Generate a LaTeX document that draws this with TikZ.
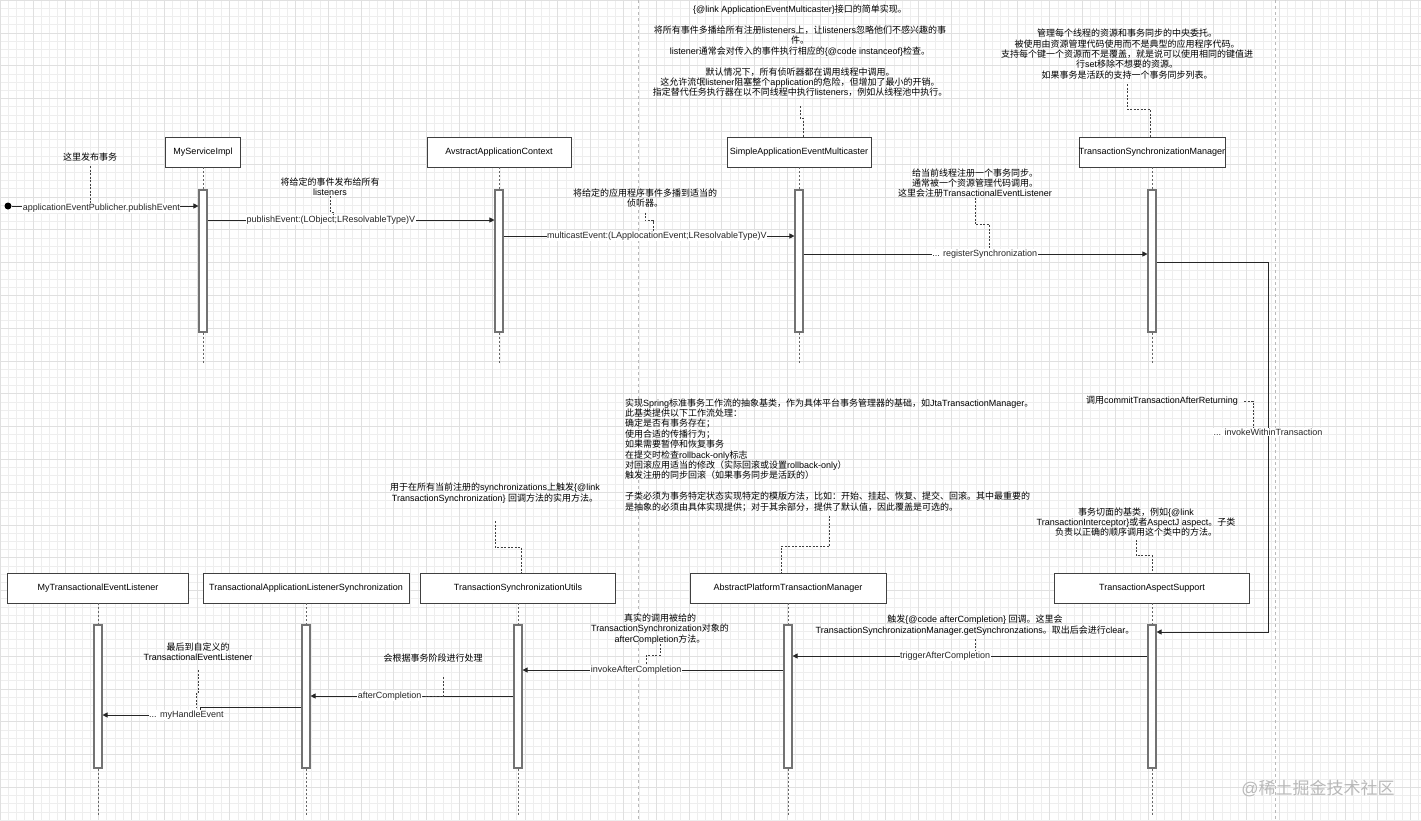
\documentclass[tikz,border=0pt]{standalone}
\usepackage{fontspec}
\setmainfont{Liberation Sans}
\newfontfamily\cjk{Noto Sans CJK SC}
\usetikzlibrary{arrows.meta, positioning}

% switch to the CJK font for Chinese characters and back for Latin ones
\newXeTeXintercharclass\cjkcls
\newcount\cjkchar
\newcommand\setclassrange[3]{\cjkchar=#1\relax
  \loop \XeTeXcharclass\cjkchar=#3\relax
  \ifnum\cjkchar<#2\relax \advance\cjkchar by 1 \repeat}
\setclassrange{0}{127}{0}
\setclassrange{"3000}{"303F}{\cjkcls}
\setclassrange{"4E00}{"9FFF}{\cjkcls}
\setclassrange{"FF00}{"FFEF}{\cjkcls}
\XeTeXinterchartoks 0 \cjkcls = {\cjk}
\XeTeXinterchartoks 4095 \cjkcls = {\cjk}
\XeTeXinterchartoks \cjkcls 0 = {\rmfamily}
\XeTeXinterchartoks \cjkcls 4095 = {\rmfamily}
\XeTeXinterchartokenstate=1

\begin{document}
\begin{tikzpicture}[x=1pt, y=-1pt,
  every node/.style={font=\fontsize{9}{10.4}\selectfont},
  box/.style={draw=black!75, fill=white, minimum height=30, inner xsep=0, line width=0.7pt},
  bar/.style={draw=black!55, fill=white, line width=1.1pt, minimum width=8, minimum height=142, inner sep=0},
  life/.style={black!60, dash pattern=on 2pt off 2pt, line width=0.6pt},
  msg/.style={-{Triangle[length=5pt, width=5pt]}, black!85, line width=0.7pt},
  lbl/.style={fill=white, inner sep=0.5pt},
  note/.style={align=center, inner sep=0},
  link/.style={black!75, dash pattern=on 2pt off 1.5pt, line width=0.6pt},
  dot/.style={circle, fill=black, inner sep=0, minimum size=7},
  gridminor/.style={gray!13, line width=0.4pt},
  gridmajor/.style={gray!24, line width=0.4pt},
  pagebreak/.style={gray!55, dash pattern=on 3pt off 3pt, line width=0.6pt}
]
  \useasboundingbox (0,0) rectangle (1421,820);
  \fill[white] (0,0) rectangle (1421,820);

  % canvas grid and page breaks
  \foreach \gx in {0,8.2,...,1421} \draw[gridminor] (\gx,0) -- (\gx,820);
  \foreach \gy in {0,8.2,...,820} \draw[gridminor] (0,\gy) -- (1421,\gy);
  \foreach \gx in {0,32.8,...,1421} \draw[gridmajor] (\gx,0) -- (\gx,820);
  \foreach \gy in {0,32.8,...,820} \draw[gridmajor] (0,\gy) -- (1421,\gy);
  \draw[pagebreak] (638,0) -- (638,820);
  \draw[pagebreak] (1275,0) -- (1275,820);

  % upper lifelines
  \node[box, minimum width=75] (svc) at (203,152) {MyServiceImpl};
  \node[box, minimum width=144] (ctx) at (499,152) {AvstractApplicationContext};
  \node[box, minimum width=144] (sam) at (799,152) {SimpleApplicationEventMulticaster};
  \node[box, minimum width=143] (tsm) at (1152,152) {TransactionSynchronizationManager};

  \node[bar] (aSvc) at (203,261) {};
  \node[bar] (aCtx) at (499,261) {};
  \node[bar] (aSam) at (799,261) {};
  \node[bar] (aTsm) at (1152,261) {};

  \draw[life] (svc) -- (aSvc) (aSvc.south) -- ++(0,30);
  \draw[life] (ctx) -- (aCtx) (aCtx.south) -- ++(0,30);
  \draw[life] (sam) -- (aSam) (aSam.south) -- ++(0,30);
  \draw[life] (tsm) -- (aTsm) (aTsm.south) -- ++(0,30);

  % lower lifelines
  \node[box, minimum width=181] (myl) at (98,588) {MyTransactionalEventListener};
  \node[box, minimum width=206] (tals) at (306,588) {TransactionalApplicationListenerSynchronization};
  \node[box, minimum width=195] (tsu) at (518,588) {TransactionSynchronizationUtils};
  \node[box, minimum width=196] (aptm) at (788,588) {AbstractPlatformTransactionManager};
  \node[box, minimum width=195] (tas) at (1152,588) {TransactionAspectSupport};

  \node[bar, minimum height=143] (aMy) at (98,696.5) {};
  \node[bar, minimum height=143] (aTals) at (306,696.5) {};
  \node[bar, minimum height=143] (aTsu) at (518,696.5) {};
  \node[bar, minimum height=143] (aPtm) at (788,696.5) {};
  \node[bar, minimum height=143] (aTas) at (1152,696.5) {};

  \draw[life] (myl) -- (aMy) (aMy.south) -- ++(0,47);
  \draw[life] (tals) -- (aTals) (aTals.south) -- ++(0,47);
  \draw[life] (tsu) -- (aTsu) (aTsu.south) -- ++(0,47);
  \draw[life] (aptm) -- (aPtm) (aPtm.south) -- ++(0,47);
  \draw[life] (tas) -- (aTas) (aTas.south) -- ++(0,47);

  % messages
  \node[dot] (start) at (8,206) {};
  \draw[msg] (start) -- node[lbl, pos=.48, yshift=-2] (lStart) {applicationEventPublicher.publishEvent} (aSvc.west |- start);
  \draw[msg] (aSvc.east |- 0,220) -- node[lbl, pos=.43] (lPub) {publishEvent:(LObject;LResolvableType)V} (aCtx.west |- 0,220);
  \draw[msg] (aCtx.east |- 0,236) -- node[lbl, pos=.527] (lMul) {multicastEvent:(LApplocationEvent;LResolvableType)V} (aSam.west |- 0,236);
  \draw[msg] (aSam.east |- 0,254) -- node[lbl, pos=.527] (lReg) {... registerSynchronization} (aTsm.west |- 0,254);
  \draw[msg] (aTsm.east |- 0,262) -| node[lbl, pos=.73] (lInv) {... invokeWithinTransaction} (1268,632) -- (aTas.east |- 0,632);
  \draw[msg] (aTas.west |- 0,656) -- node[lbl, pos=.57] (lTrig) {triggerAfterCompletion} (aPtm.east |- 0,656);
  \draw[msg] (aPtm.west |- 0,670) -- node[lbl, pos=.565] (lInvAC) {invokeAfterCompletion} (aTsu.east |- 0,670);
  \draw[msg] (aTsu.west |- 0,696) -- node[lbl, pos=.61] (lAft) {afterCompletion} (aTals.east |- 0,696);
  \coordinate (bend) at (200,707);
  \draw[msg] (aTals.west |- bend) -- (bend) |- node[lbl, pos=.57] (lHandle) {... myHandleEvent} (aMy.east |- 0,715);

  % notes
  \node[note] (nMulti) at (800,51) {\{@link ApplicationEventMulticaster\}接口的简单实现。\\[10.4pt]
    将所有事件多播给所有注册listeners上，让listeners忽略他们不感兴趣的事\\
    件。\\
    listener通常会对传入的事件执行相应的\{@code instanceof\}检查。\\[10.4pt]
    默认情况下，所有侦听器都在调用线程中调用。\\
    这允许流氓listener阻塞整个application的危险，但增加了最小的开销。\\
    指定替代任务执行器在以不同线程中执行listeners，例如从线程池中执行。};
  \node[note] (nTsm) at (1127,54) {管理每个线程的资源和事务同步的中央委托。\\
    被使用由资源管理代码使用而不是典型的应用程序代码。\\
    支持每个键一个资源而不是覆盖，就是说可以使用相同的键值进\\
    行set移除不想要的资源。\\
    如果事务是活跃的支持一个事务同步列表。};
  \node[note] (nHere) at (90,157) {这里发布事务};
  \node[note] (nPub) at (330,187) {将给定的事件发布给所有\\listeners};
  \node[note] (nMul) at (645,198) {将给定的应用程序事件多播到适当的\\侦听器。};
  \node[note] (nReg) at (975,183) {给当前线程注册一个事务同步。\\
    通常被一个资源管理代码调用。\\
    这里会注册TransactionalEventListener};
  \node[note, align=left, anchor=west] (nSpring) at (625,455) {实现Spring标准事务工作流的抽象基类，作为具体平台事务管理器的基础，如JtaTransactionManager。\\
    此基类提供以下工作流处理：\\
    确定是否有事务存在；\\
    使用合适的传播行为；\\
    如果需要暂停和恢复事务\\
    在提交时检查rollback-only标志\\
    对回滚应用适当的修改（实际回滚或设置rollback-only）\\
    触发注册的同步回滚（如果事务同步是活跃的）\\[10.4pt]
    子类必须为事务特定状态实现特定的模版方法，比如：开始、挂起、恢复、提交、回滚。其中最重要的\\
    是抽象的必须由具体实现提供；对于其余部分，提供了默认值，因此覆盖是可选的。};
  \node[note] (nUtil) at (495,493) {用于在所有当前注册的synchronizations上触发\{@link\\
    TransactionSynchronization\} 回调方法的实用方法。};
  \node[note] (nCommit) at (1162,401) {调用commitTransactionAfterReturning};
  \node[note] (nAspect) at (1136,522) {事务切面的基类，例如\{@link\\
    TransactionInterceptor\}或者AspectJ aspect。子类\\
    负责以正确的顺序调用这个类中的方法。};
  \node[note] (nLast) at (198,652) {最后到自定义的\\TransactionalEventListener};
  \node[note] (nPhase) at (433,658) {会根据事务阶段进行处理};
  \node[note] (nReal) at (660,629) {真实的调用被给的\\TransactionSynchronization对象的\\afterCompletion方法。};
  \node[note] (nTrig) at (975,625) {触发\{@code afterCompletion\} 回调。这里会\\
    TransactionSynchronizationManager.getSynchronzations。取出后会进行clear。};

  % note links
  \draw[link] (nMulti.south) ++(0,9) -- ++(0,12) -| ([xshift=4]sam.north);
  \draw[link] (nTsm.south) ++(0,5) -- ++(0,25) -| ([xshift=-2]tsm.north);
  \draw[link] (nHere.south) ++(0,5) -- (nHere.south |- lStart.north);
  \draw[link] (nPub.south) -- ++(0,16) -| ([xshift=2]lPub.north);
  \draw[link] (nMul.south) ++(0,5) -- ++(0,8) -| ([xshift=-4]lMul.north);
  \draw[link] (nReg.south) -- ++(0,27) -| ([xshift=5]lReg.north);
  \draw[link] (nCommit.east) ++(6,0) -| ([xshift=-15]lInv.north);
  \draw[link] (nSpring.south) ++(0,4) -- ++(0,31) -| ([xshift=-7]aptm.north);
  \draw[link] (nUtil.south) ++(0,18) -- ++(0,26) -| ([xshift=3]tsu.north);
  \draw[link] (nAspect.south) ++(0,3) -- ++(0,16) -| (tas.north);
  \draw[link] (nLast.south) ++(0,9) -- ++(0,23) -| ([xshift=-4]bend);
  \draw[link] (nPhase.south) ++(10,15) |- (lAft.east);
  \draw[link] (nReal.south) -- ++(0,11) -| ([xshift=10]lInvAC.north);
  \draw[link] (nTrig.south) ++(0,4) -- (nTrig.south |- lTrig.north);

  \node[font=\fontsize{17}{20}\selectfont, text=gray!55] (mark) at (1318,788) {@稀土掘金技术社区};
\end{tikzpicture}
\end{document}
